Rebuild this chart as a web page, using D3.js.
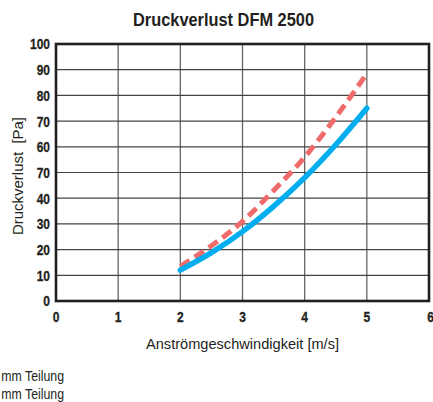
<!DOCTYPE html>
<html lang="de">
<head>
<meta charset="UTF-8">
<title>Druckverlust DFM 2500</title>
<script src="https://cdnjs.cloudflare.com/ajax/libs/d3/7.8.5/d3.min.js"></script>
<style>
  body { margin: 0; background: #fff; }
  svg text { font-family: "Liberation Sans Narrow", "Arial Narrow", "Liberation Sans", sans-serif; fill: #231f20; }
</style>
</head>
<body>
<svg id="chart" width="433" height="402"></svg>
<script>
// data
var speed = [2, 2.5, 3, 3.5, 4, 4.5, 5];
var lossBlue = [12, 18.8, 27, 36.8, 48, 60.8, 75];
var lossRed = [13.5, 21.5, 31, 43, 56, 71.5, 88.5];
var xTicks = [0, 1, 2, 3, 4, 5, 6];
var yTicks = [0, 10, 20, 30, 40, 50, 60, 70, 80, 90, 100];
// the original sheet prints "70" where 50 should be
var yTickLabels = ["0", "10", "20", "30", "40", "70", "60", "70", "80", "90", "100"];
var legendLabels = ["mm Teilung", "mm Teilung"];

var svg = d3.select("#chart");
var m = {left: 56, right: 429, top: 44, bottom: 301};

var x = d3.scaleLinear().domain([0, 6]).range([m.left, m.right]);
var y = d3.scaleLinear().domain([0, 100]).range([m.bottom, m.top]);

// grid
svg.append("g").selectAll("line").data(xTicks.slice(1, -1)).join("line")
  .attr("x1", d => x(d)).attr("x2", d => x(d))
  .attr("y1", m.top).attr("y2", m.bottom)
  .attr("stroke", "#666").attr("stroke-width", 1.3);
svg.append("g").selectAll("line").data(yTicks.slice(1, -1)).join("line")
  .attr("x1", m.left).attr("x2", m.right)
  .attr("y1", d => y(d)).attr("y2", d => y(d))
  .attr("stroke", "#444").attr("stroke-width", 1.2);

// frame
svg.append("rect")
  .attr("x", m.left).attr("y", m.top)
  .attr("width", m.right - m.left).attr("height", m.bottom - m.top)
  .attr("fill", "none").attr("stroke", "#231f20").attr("stroke-width", 2.6);

// curves
var line = d3.line().x(d => x(d[0])).y(d => y(d[1])).curve(d3.curveMonotoneX);
svg.append("path")
  .datum(d3.zip(speed, lossRed))
  .attr("d", line)
  .attr("fill", "none").attr("stroke", "#ef6b6b").attr("stroke-width", 5)
  .attr("stroke-dasharray", "11,6");
svg.append("path")
  .datum(d3.zip(speed, lossBlue))
  .attr("d", line)
  .attr("fill", "none").attr("stroke", "#00aeef").attr("stroke-width", 5.5)
  .attr("stroke-linecap", "round");

// tick labels (condensed look)
svg.append("g").selectAll("text").data(yTicks).join("text")
  .attr("transform", d => "translate(50," + y(d) + ") scale(0.8,1)")
  .attr("dy", "0.36em")
  .attr("text-anchor", "end")
  .attr("font-weight", "bold").attr("font-size", 15)
  .attr("stroke", "#231f20").attr("stroke-width", 0.3)
  .text((d, i) => yTickLabels[i]);
svg.append("g").selectAll("text").data(xTicks).join("text")
  .attr("transform", d => "translate(" + (x(d) + (d === 6 ? 1.5 : 0)) + ",322) scale(0.8,1)")
  .attr("text-anchor", "middle")
  .attr("font-weight", "bold").attr("font-size", 15)
  .attr("stroke", "#231f20").attr("stroke-width", 0.3)
  .text(d => d);

// titles
svg.append("text")
  .attr("x", 223.5).attr("y", 26)
  .attr("text-anchor", "middle")
  .attr("font-weight", "bold").attr("font-size", 18)
  .attr("textLength", 181).attr("lengthAdjust", "spacingAndGlyphs")
  .text("Druckverlust DFM 2500");
svg.append("text")
  .attr("x", (m.left + m.right) / 2).attr("y", 349)
  .attr("text-anchor", "middle")
  .attr("font-size", 15)
  .attr("textLength", 193).attr("lengthAdjust", "spacingAndGlyphs")
  .text("Anströmgeschwindigkeit [m/s]");
svg.append("text")
  .attr("transform", "translate(23,176) rotate(-90)")
  .attr("text-anchor", "middle")
  .attr("font-size", 15)
  .attr("xml:space", "preserve")
  .attr("textLength", 118).attr("lengthAdjust", "spacingAndGlyphs")
  .text("Druckverlust  [Pa]");

// legend text (cut off at the left edge in the original)
svg.append("g").selectAll("text").data(legendLabels).join("text")
  .attr("transform", (d, i) => "translate(64," + (381 + i * 18) + ") scale(0.85,1)")
  .attr("text-anchor", "end")
  .attr("font-size", 14.5)
  .text(d => "4 " + d);
</script>
</body>
</html>
